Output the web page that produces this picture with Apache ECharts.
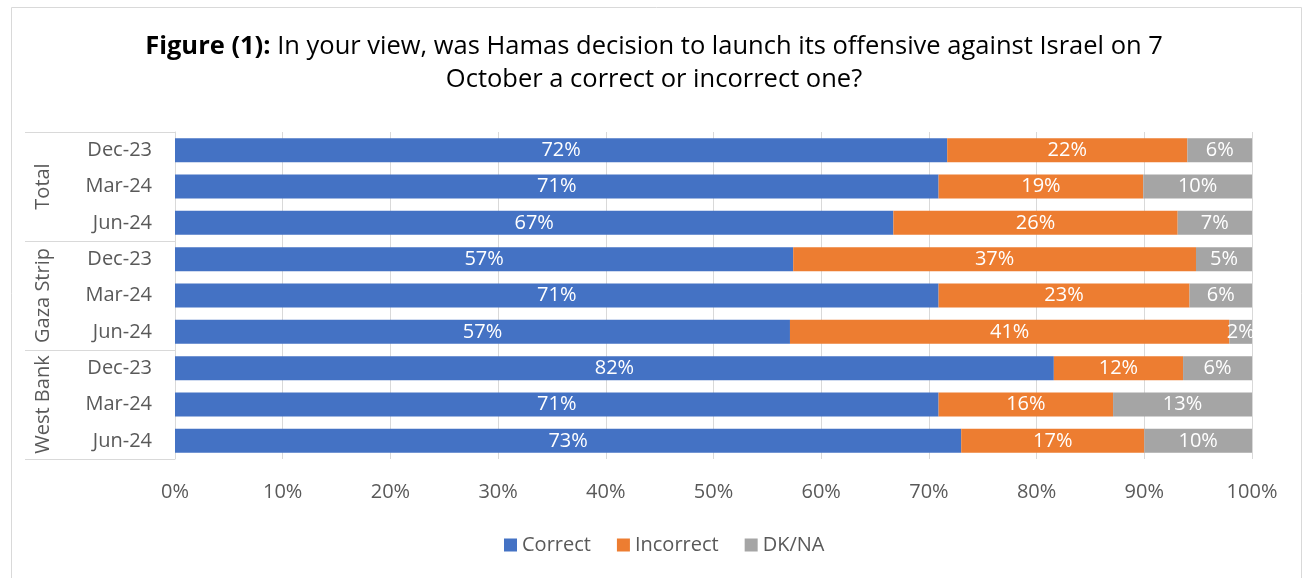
<!DOCTYPE html>
<html>
<head>
<meta charset="utf-8">
<script src="https://cdn.jsdelivr.net/npm/echarts@6/dist/echarts.min.js"></script>
<style>
html,body{margin:0;padding:0;background:#fff;}
#chart{width:1308px;height:578px;}
</style>
</head>
<body>
<div id="chart"></div>
<script>
const dates = ['Dec-23','Mar-24','Jun-24','Dec-23','Mar-24','Jun-24','Dec-23','Mar-24','Jun-24'];
const groups = ['Total','Gaza Strip','West Bank'];
const correct   = [71.7, 70.9, 66.7, 57.4, 70.9, 57.1, 81.6, 70.9, 73.0];
const incorrect = [22.3, 19.0, 26.4, 37.4, 23.3, 40.8, 12.0, 16.2, 17.0];
const dkna      = [ 6.0, 10.1,  6.9,  5.2,  5.8,  2.1,  6.4, 12.9, 10.0];
const seriesNames = ['Correct','Incorrect','DK/NA'];
const colors = ['#4472C4','#ED7D31','#A5A5A5'];
const xTicks = {min:0, max:100, interval:10};
const titleLines = ['In your view, was Hamas decision to launch its offensive against Israel on 7', 'October a correct or incorrect one?'];

const font = "'Open Sans', sans-serif";
const chart = echarts.init(document.getElementById('chart'));

function mkSeries(name, data, color){
  return {
    name: name, type: 'bar', stack: 'all', data: data,
    yAxisIndex: 0,
    barCategoryGap: '34%',
    itemStyle: {color: color},
    label: {
      show: true, position: 'inside', color: '#fff',
      fontFamily: font, fontSize: 20,
      formatter: p => Math.round(p.value) + '%'
    }
  };
}

const titleStyle = {
  fontFamily: font, fontSize: 25.5, fontWeight: 'normal', color: '#000',
  rich: {b: {fontFamily: font, fontSize: 25.5, fontWeight: 'bold', color: '#000'}}
};

chart.setOption({
  animation: false,
  textStyle: {fontFamily: font},
  title: [
    {text: '{b|Figure (1):} ' + titleLines[0], left: 'center', top: 34, padding: 0, textStyle: titleStyle},
    {text: titleLines[1], left: 'center', top: 67, padding: 0, textStyle: titleStyle}
  ],
  graphic: [{
    type: 'rect', shape: {x: 11.5, y: 7.5, width: 1290, height: 600},
    style: {fill: 'none', stroke: '#d9d9d9', lineWidth: 1}, silent: true, z: -1
  }],
  legend: {
    bottom: 18, left: 499,
    itemWidth: 13, itemHeight: 13, itemGap: 26,
    icon: 'rect',
    textStyle: {fontFamily: font, fontSize: 20, color: '#595959'},
    data: seriesNames
  },
  grid: {left: 175, right: 56, top: 132, bottom: 119, containLabel: false},
  xAxis: {
    type: 'value', min: xTicks.min, max: xTicks.max, interval: xTicks.interval,
    axisLine: {show: false}, axisTick: {show: false},
    axisLabel: {formatter: '{value}%', fontFamily: font, fontSize: 20, color: '#595959', margin: 23},
    splitLine: {show: true, lineStyle: {color: '#d9d9d9', width: 1}}
  },
  yAxis: [{
    type: 'category', data: dates, inverse: true, position: 'left', offset: 0,
    axisLine: {show: true, lineStyle: {color: '#d9d9d9'}},
    axisTick: {show: false},
    axisLabel: {fontFamily: font, fontSize: 20, color: '#595959', margin: 23, interval: 0}
  }, {
    type: 'category', data: groups, inverse: true, position: 'left', offset: 0,
    axisLine: {show: false},
    axisTick: {show: true, length: 150, interval: 0, lineStyle: {color: '#d9d9d9'}},
    axisLabel: {fontFamily: font, fontSize: 20, color: '#595959', rotate: 90, margin: 122, interval: 0, hideOverlap: false}
  }],
  series: [
    mkSeries(seriesNames[0], correct, colors[0]),
    mkSeries(seriesNames[1], incorrect, colors[1]),
    mkSeries(seriesNames[2], dkna, colors[2])
  ]
});
</script>
</body>
</html>
